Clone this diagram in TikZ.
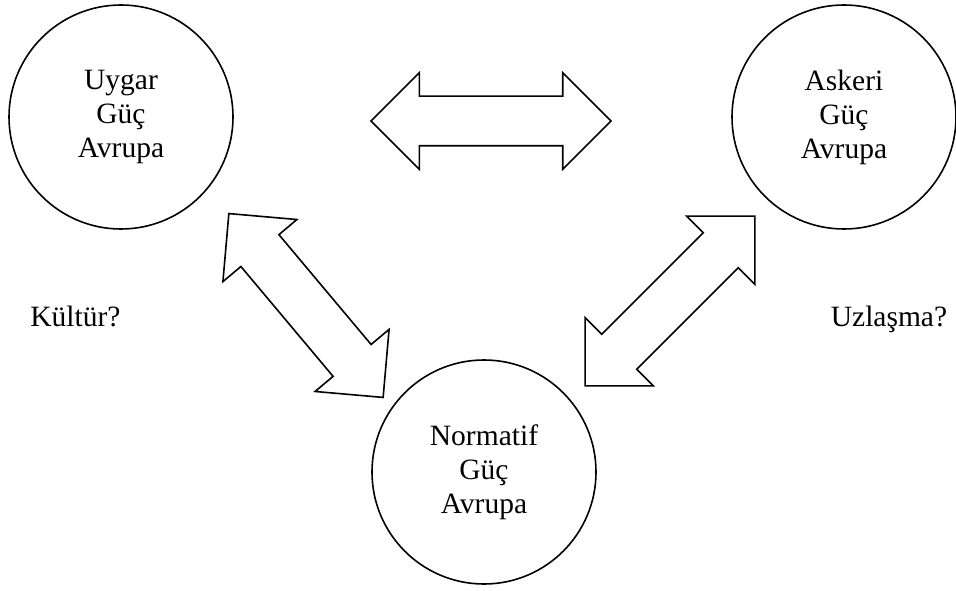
\documentclass[tikz,border=0pt]{standalone}
\usepackage{fontspec}
\setmainfont{Liberation Serif}
\usepackage{tikz}
\usetikzlibrary{shapes}
\tikzstyle{power} = [circle, draw, line width=1.6pt, minimum size=224pt,
    inner sep=0pt, align=center, font=\fontsize{29.5}{34}\selectfont]
\tikzstyle{link} = [double arrow, draw, line width=1.6pt, minimum height=240pt,
    double arrow head extend=23.5pt, inner xsep=0pt, inner ysep=24pt]
\tikzstyle{note} = [anchor=base, inner sep=0pt, font=\fontsize{29.5}{34}\selectfont]

\begin{document}
\begin{tikzpicture}[x=1pt, y=1pt]
    \useasboundingbox (0,0) rectangle (956,590);
    % Place nodes
    \node [power] (uygar) at (121,473) {Uygar\\Güç\\Avrupa};
    \node [power] (askeri) at (844,473) {Askeri\\Güç\\Avrupa};
    \node [power] (normatif) at (484,118) {Normatif\\Güç\\Avrupa};
    % Block arrows
    \node [link] (top) at (491,469) {};
    \node [link, rotate=-50] (left) at (306,284.5) {};
    \node [link, rotate=45] (right) at (670,289) {};
    % Labels
    \node [note] (kultur) at (75.5,264) {Kültür?};
    \node [note] (uzlasma) at (889,264) {Uzlaşma?};
\end{tikzpicture}
\end{document}
